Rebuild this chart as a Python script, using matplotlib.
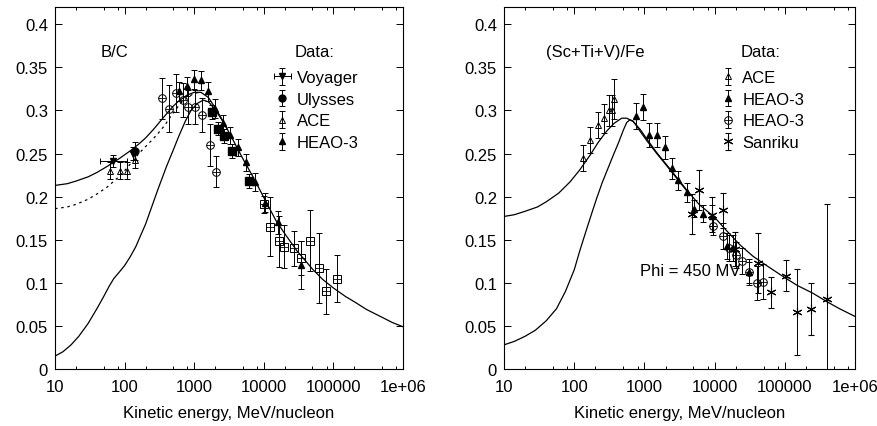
import numpy as np
import matplotlib
matplotlib.use('Agg')
import matplotlib.pyplot as plt
from matplotlib.ticker import FixedLocator, LogLocator, NullFormatter

plt.rcParams['font.family'] = ['Liberation Sans', 'DejaVu Sans']
plt.rcParams['font.size'] = 12

# ---------------- B/C panel ----------------
# model curves (energy MeV/n, ratio)
bc_mod_e = [10, 15, 20, 30, 40, 56, 80, 120, 160, 200, 260, 330, 400, 500, 600, 800,
            1000, 1250, 1600, 2000, 2500, 3000, 4000, 5000, 7000, 1e4, 1.5e4, 2e4, 3e4,
            5e4, 7e4, 1e5, 1.5e5, 2e5, 3e5, 5e5, 7e5, 1e6]
bc_mod_v = [0.213, 0.215, 0.218, 0.223, 0.228, 0.235, 0.243, 0.253, 0.261, 0.268, 0.278,
            0.288, 0.296, 0.305, 0.311, 0.318, 0.321, 0.321, 0.315, 0.303, 0.290, 0.278,
            0.259, 0.244, 0.223, 0.199, 0.172, 0.157, 0.137, 0.116, 0.104, 0.094, 0.084,
            0.078, 0.069, 0.060, 0.054, 0.049]
bc_dot_e = [10, 15, 20, 30, 40, 56, 80, 100, 130, 160, 200, 250, 300, 380, 450, 530, 650,
            800, 1000, 1250]
bc_dot_v = [0.186, 0.188, 0.191, 0.197, 0.203, 0.211, 0.222, 0.230, 0.241, 0.250, 0.258,
            0.266, 0.273, 0.283, 0.292, 0.300, 0.309, 0.315, 0.320, 0.321]
bc_lis_e = [10, 13, 17, 22, 30, 40, 50, 60, 70, 85, 100, 120, 145, 170, 200, 250, 300,
            400, 500, 600, 750, 900, 1100, 1350, 1600, 2000, 2500, 3000]
bc_lis_v = [0.015, 0.020, 0.028, 0.038, 0.053, 0.070, 0.084, 0.096, 0.105, 0.113, 0.120,
            0.130, 0.142, 0.155, 0.168, 0.190, 0.208, 0.235, 0.254, 0.270, 0.288, 0.300,
            0.308, 0.312, 0.310, 0.301, 0.289, 0.278]

# data
voy_e = [68, 130]
voy_v = [0.241, 0.250]
voy_xlo = [24, 0]
voy_xhi = [40, 0]
voy_err = [0.007, 0.008]

uly_e = [141]
uly_v = [0.253]
uly_err = [0.010]

ace_bc_e = [62, 86, 110, 140]
ace_bc_v = [0.230, 0.230, 0.230, 0.243]
ace_bc_err = [0.010, 0.010, 0.010, 0.010]

heao_bc_e = [605, 780, 990, 1240, 1600, 1990, 2620, 3270, 4300, 5500, 7480, 10400,
             16100, 33800]
heao_bc_v = [0.322, 0.328, 0.336, 0.335, 0.322, 0.302, 0.285, 0.271, 0.257, 0.240,
             0.217, 0.193, 0.170, 0.121]
heao_bc_err = [0.011, 0.011, 0.011, 0.011, 0.011, 0.011, 0.010, 0.010, 0.010, 0.010,
               0.010, 0.011, 0.013, 0.028]

sq_e = [1780, 2220, 2700, 3520, 6130]
sq_v = [0.298, 0.279, 0.270, 0.253, 0.218]
sq_err = [0.008, 0.008, 0.008, 0.008, 0.008]

cp_e = [341, 439, 542, 680, 820, 1020, 1280, 1690, 2060]
cp_v = [0.314, 0.302, 0.320, 0.312, 0.304, 0.304, 0.295, 0.260, 0.229]
cp_err = [0.024, 0.027, 0.022, 0.020, 0.020, 0.020, 0.020, 0.024, 0.018]

bp_e = [10100, 12300, 16700, 19500, 27200, 34200, 46100, 62100, 78300, 111000]
bp_v = [0.191, 0.165, 0.148, 0.142, 0.140, 0.129, 0.149, 0.117, 0.090, 0.105]
bp_err = [0.010, 0.034, 0.030, 0.025, 0.020, 0.020, 0.035, 0.041, 0.026, 0.027]

# ---------------- (Sc+Ti+V)/Fe panel ----------------
sf_mod_e = [10, 14, 20, 30, 40, 60, 87, 120, 168, 220, 290, 370, 475, 560, 695, 870,
            1080, 1500, 2320, 3980, 6000, 1e4, 1.5e4, 2.3e4, 3.5e4, 5.5e4, 1e5, 1.5e5,
            2.5e5, 4e5, 6e5, 1e6]
sf_mod_v = [0.177, 0.179, 0.183, 0.188, 0.194, 0.204, 0.217, 0.231, 0.248, 0.263, 0.276,
            0.285, 0.291, 0.291, 0.287, 0.278, 0.267, 0.251, 0.232, 0.208, 0.191, 0.176,
            0.160, 0.144, 0.131, 0.120, 0.106, 0.097, 0.088, 0.078, 0.070, 0.061]
sf_lis_e = [10, 14, 20, 28, 40, 56, 75, 100, 121, 150, 180, 209, 250, 300, 360, 430, 500,
            560, 620, 680, 760, 865, 1080, 1500, 2320, 3980]
sf_lis_v = [0.028, 0.032, 0.038, 0.045, 0.056, 0.070, 0.090, 0.115, 0.138, 0.162, 0.182,
            0.198, 0.216, 0.232, 0.248, 0.263, 0.277, 0.286, 0.289, 0.288, 0.283, 0.276,
            0.265, 0.250, 0.231, 0.207]

ace_sf_e = [132, 168, 220, 266, 317, 342, 372]
ace_sf_v = [0.245, 0.266, 0.283, 0.291, 0.300, 0.300, 0.313]
ace_sf_err = [0.015, 0.015, 0.015, 0.017, 0.018, 0.018, 0.023]

heao_sf_e = [760, 946, 1180, 1500, 1960, 2450, 3040, 4000, 5090, 6900, 9080, 14900,
             18500, 31200]
heao_sf_v = [0.294, 0.304, 0.271, 0.271, 0.257, 0.233, 0.219, 0.205, 0.186, 0.180,
             0.178, 0.143, 0.140, 0.112]
heao_sf_err = [0.015, 0.015, 0.014, 0.014, 0.013, 0.012, 0.011, 0.011, 0.010, 0.010,
               0.012, 0.015, 0.015, 0.012]

heao2_sf_e = [9400, 13300, 16200, 20000, 24300, 31200, 40600, 49400]
heao2_sf_v = [0.166, 0.154, 0.140, 0.132, 0.125, 0.113, 0.0996, 0.1015]
heao2_sf_err = [0.010, 0.015, 0.015, 0.015, 0.015, 0.015, 0.020, 0.020]

san_e = [4720, 6050, 9080, 13000, 19500, 42000, 63500, 103000, 148000, 234000, 403000]
san_v = [0.180, 0.208, 0.179, 0.184, 0.139, 0.123, 0.089, 0.108, 0.066, 0.070, 0.081]
san_err = [0.023, 0.023, 0.020, 0.020, 0.020, 0.035, 0.018, 0.018, 0.050, 0.030, 0.111]

xticks = [10, 100, 1000, 1e4, 1e5, 1e6]
xlabels = ['10', '100', '1000', '10000', '100000', '1e+06']
yticks = [0, 0.05, 0.1, 0.15, 0.2, 0.25, 0.3, 0.35, 0.4]
ylabels = ['0', '0.05', '0.1', '0.15', '0.2', '0.25', '0.3', '0.35', '0.4']

eb = dict(ecolor='k', elinewidth=0.7, capsize=2.5, capthick=0.7, linestyle='none')
leg = dict(loc='upper left', frameon=False, handlelength=1.0, handletextpad=0.35,
           labelspacing=0.4, borderpad=0.2, borderaxespad=0)


def style_axes(ax):
    ax.set_xscale('log')
    ax.set_xlim(10, 1e6)
    ax.set_ylim(0, 0.42)
    ax.xaxis.set_major_locator(FixedLocator(xticks))
    ax.set_xticklabels(xlabels)
    ax.xaxis.set_minor_locator(LogLocator(base=10, subs=(2, 5, 8)))
    ax.xaxis.set_minor_formatter(NullFormatter())
    ax.yaxis.set_major_locator(FixedLocator(yticks))
    ax.set_yticklabels(ylabels)
    ax.tick_params(which='both', direction='in', top=True, right=True, width=0.7)
    ax.tick_params(which='major', length=5, pad=5)
    ax.tick_params(axis='x', which='major', pad=7)
    ax.tick_params(which='minor', length=2.5)
    for s in ax.spines.values():
        s.set_linewidth(0.8)
    ax.set_xlabel('Kinetic energy, MeV/nucleon', labelpad=8)


fig = plt.figure(figsize=(8.77, 4.27), dpi=100)
ax1 = fig.add_axes([55 / 877, 57 / 427, 348 / 877, 362 / 427])
ax2 = fig.add_axes([504 / 877, 57 / 427, 351 / 877, 362 / 427])

# left panel
ax1.plot(bc_mod_e, bc_mod_v, 'k-', lw=0.9)
ax1.plot(bc_dot_e, bc_dot_v, 'k', lw=0.9, linestyle=(0, (2, 3)))
ax1.plot(bc_lis_e, bc_lis_v, 'k-', lw=0.9)

ax1.errorbar(cp_e, cp_v, yerr=cp_err, fmt='o', mfc='none', mec='k', ms=5.5, mew=0.7, **eb)
ax1.plot(cp_e, cp_v, '+', color='k', ms=5.5, mew=0.6)
ax1.errorbar(bp_e, bp_v, yerr=bp_err, fmt='s', mfc='none', mec='k', ms=5.5, mew=0.7, **eb)
ax1.plot(bp_e, bp_v, '+', color='k', ms=5.5, mew=0.6)
ax1.errorbar(sq_e, sq_v, yerr=sq_err, fmt='s', color='k', ms=6, **eb)
h_voy = ax1.errorbar(voy_e, voy_v, yerr=voy_err, xerr=[voy_xlo, voy_xhi], fmt='v',
                     color='k', ms=4.5, **eb)
h_uly = ax1.errorbar(uly_e, uly_v, yerr=uly_err, fmt='o', color='k', ms=5, **eb)
h_ace = ax1.errorbar(ace_bc_e, ace_bc_v, yerr=ace_bc_err, fmt='^', mfc='none', mec='k',
                     ms=5, mew=0.7, **eb)
h_heao = ax1.errorbar(heao_bc_e, heao_bc_v, yerr=heao_bc_err, fmt='^', color='k', ms=4.5,
                      **eb)

ax1.text(0.132, 0.878, 'B/C', transform=ax1.transAxes, va='center', ha='left')
ax1.text(0.69, 0.878, 'Data:', transform=ax1.transAxes, va='center', ha='left')
ax1.legend([h_voy, h_uly, h_ace, h_heao], ['Voyager', 'Ulysses', 'ACE', 'HEAO-3'],
           bbox_to_anchor=(0.62, 0.835), **leg)
style_axes(ax1)

# right panel
ax2.plot(sf_mod_e, sf_mod_v, 'k-', lw=0.9)
ax2.plot(sf_lis_e, sf_lis_v, 'k-', lw=0.9)

h_ace2 = ax2.errorbar(ace_sf_e, ace_sf_v, yerr=ace_sf_err, fmt='^', mfc='none', mec='k',
                      ms=5, mew=0.7, **eb)
h_heao2 = ax2.errorbar(heao_sf_e, heao_sf_v, yerr=heao_sf_err, fmt='^', color='k',
                       ms=4.5, **eb)
h_cp2 = ax2.errorbar(heao2_sf_e, heao2_sf_v, yerr=heao2_sf_err, fmt='o', mfc='none',
                     mec='k', ms=5.5, mew=0.7, **eb)
h_cp2p, = ax2.plot(heao2_sf_e, heao2_sf_v, '+', color='k', ms=5.5, mew=0.6)
h_san = ax2.errorbar(san_e, san_v, yerr=san_err, marker=(6, 2, 0), color='k', ms=7,
                     mew=0.8, **eb)

ax2.text(0.12, 0.878, '(Sc+Ti+V)/Fe', transform=ax2.transAxes, va='center', ha='left')
ax2.text(0.675, 0.878, 'Data:', transform=ax2.transAxes, va='center', ha='left')
ax2.text(0.387, 0.271, 'Phi = 450 MV', transform=ax2.transAxes, va='center', ha='left')
ax2.legend([h_ace2, h_heao2, (h_cp2, h_cp2p), h_san], ['ACE', 'HEAO-3', 'HEAO-3', 'Sanriku'],
           bbox_to_anchor=(0.605, 0.835), **leg)
style_axes(ax2)

fig.savefig('out.png', dpi=100)
